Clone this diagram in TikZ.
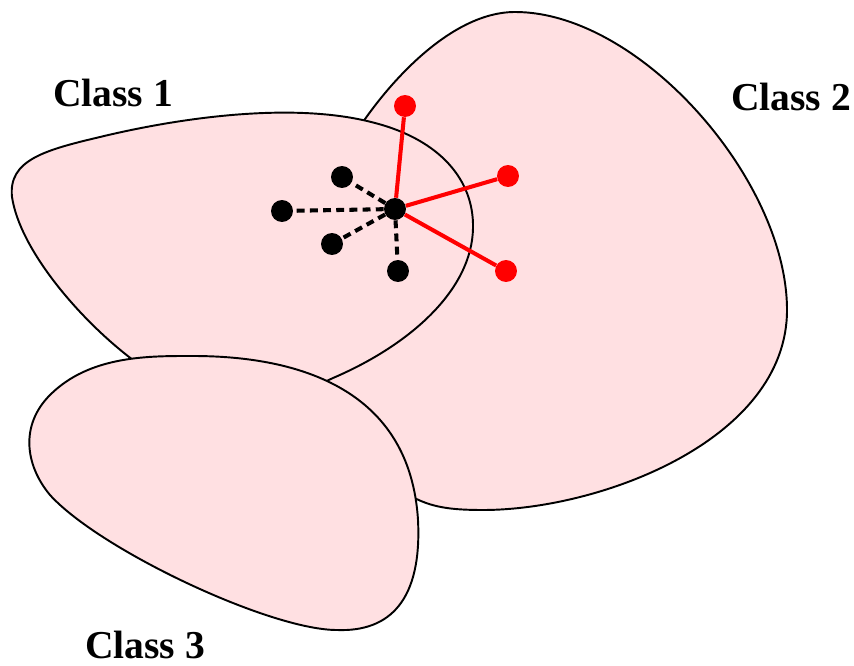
\documentclass[tikz,border=0pt]{standalone}
\usepackage{fontspec}
\setmainfont{Liberation Serif}
\definecolor{classpink}{RGB}{255,224,226}
\tikzset{
  blob/.style={draw=black, line width=1.1pt, fill=classpink},
  dot/.style={circle, fill=black, minimum size=12.5pt, inner sep=0pt},
  reddot/.style={dot, fill=red},
  near/.style={line width=2.3pt, dash pattern=on 4.5pt off 3pt},
  far/.style={line width=2.3pt, red},
  label/.style={font=\bfseries\fontsize{22.5}{26}\selectfont}
}
\begin{document}
\begin{tikzpicture}[x=0.02cm, y=-0.02cm]
    \useasboundingbox (0,0) rectangle (854,665);

    % Class 2 (back)
    \draw[blob] (340,160) .. controls (365,110) and (440,12) .. (515,12)
      .. controls (640,12) and (787,180) .. (787,310)
      .. controls (787,440) and (600,510) .. (483,510)
      .. controls (440,510) and (425,505) .. (400,490)
      .. controls (300,430) and (290,230) .. (340,160) -- cycle;
    % Class 1
    \draw[blob] (12,197) .. controls (8,160) and (45,150) .. (100,137)
      .. controls (170,120) and (290,100) .. (375,123)
      .. controls (440,140) and (474,180) .. (473,228)
      .. controls (472,290) and (410,345) .. (333,378)
      .. controls (280,405) and (180,395) .. (133,360)
      .. controls (80,320) and (20,250) .. (12,197) -- cycle;
    % Class 3 (front)
    \draw[blob] (193,356) .. controls (300,356) and (410,390) .. (418,520)
      .. controls (422,600) and (390,632) .. (337,630)
      .. controls (270,630) and (100,550) .. (50,495)
      .. controls (25,465) and (20,425) .. (50,395)
      .. controls (90,355) and (150,356) .. (193,356) -- cycle;

    % Labels
    \node[label] (l1) at (113,93) {Class 1};
    \node[label] (l2) at (791,97) {Class 2};
    \node[label] (l3) at (145,645) {Class 3};

    % Query point and its neighbours
    \node[dot] (c) at (395,209) {};
    \node[dot] (b1) at (342,177) {};
    \node[dot] (b2) at (282,211) {};
    \node[dot] (b3) at (332,244) {};
    \node[dot] (b4) at (398,271) {};
    \node[reddot] (r1) at (405,106) {};
    \node[reddot] (r2) at (508,176) {};
    \node[reddot] (r3) at (506,271) {};
    \foreach \i in {1,...,4} {
      \draw[near] (c) -- (b\i);
    }
    \foreach \i in {1,...,3} {
      \draw[far] (c) -- (r\i);
    }

\end{tikzpicture}
\end{document}
